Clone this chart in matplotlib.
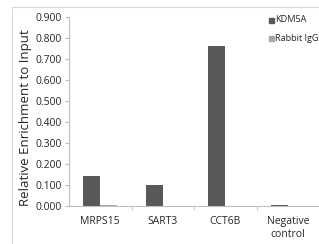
import numpy as np
import matplotlib
matplotlib.use("Agg")
import matplotlib.pyplot as plt
from matplotlib.patches import Rectangle

categories = ["MRPS15", "SART3", "CCT6B", "Negative\ncontrol"]
kdm5a = [0.143, 0.098, 0.763, 0.003]
rabbit_igg = [0.003, 0.002, 0.002, 0.002]
yticks = [0.0, 0.1, 0.2, 0.3, 0.4, 0.5, 0.6, 0.7, 0.8, 0.9]

dark = "#595959"
light = "#a6a6a6"
plt.rcParams["font.family"] = ["Open Sans", "DejaVu Sans"]

fig = plt.figure(figsize=(3.19, 2.44), dpi=100)
fig.patches.append(Rectangle((12 / 319, -0.1), 1.2, 1 - 7 / 244 + 0.1,
                             transform=fig.transFigure, fill=False,
                             edgecolor="#d9d9d9", linewidth=0.8))

ax = fig.add_axes([69 / 319, 1 - 206 / 244, 1 - 69 / 319, (206 - 17) / 244])
x = np.arange(len(categories))
w = 0.27
ax.bar(x - w / 2, kdm5a, w, color=dark, label="KDM5A")
ax.bar(x + w / 2, rabbit_igg, w, color=light, label="Rabbit IgG")

ax.set_xlim(-0.5, len(categories) - 0.5)
ax.set_ylim(0, 0.9)
ax.set_yticks(yticks)
ax.set_yticklabels(["%.3f" % v for v in yticks], fontsize=7.5, color="#262626")
ax.set_xticks(x)
ax.set_xticklabels(categories, fontsize=7.5, color="#262626", linespacing=1.3)
ax.set_xticks(np.arange(0.5, len(categories) - 0.5), minor=True)
ax.tick_params(axis="x", which="major", length=0, pad=7)
ax.tick_params(axis="x", which="minor", length=3, color="#bfbfbf")
ax.tick_params(axis="y", length=3, color="#bfbfbf", pad=2)

for s in ["top", "right"]:
    ax.spines[s].set_visible(False)
ax.spines["left"].set_color("#bfbfbf")
ax.spines["bottom"].set_color("#bfbfbf")
ax.spines["left"].set_linewidth(0.8)
ax.spines["bottom"].set_linewidth(0.8)

fig.text(25 / 319, 1 - 118 / 244, "Relative Enrichment to Input", rotation=90,
         ha="center", va="center", fontsize=9.5, color="#262626")

# legend
for i, (lab, col) in enumerate([("KDM5A", dark), ("Rabbit IgG", light)]):
    yy = 1 - (20 + 18 * i) / 244
    fig.patches.append(Rectangle((269 / 319, yy - 2.5 / 244), 5 / 319, 5 / 244,
                                 transform=fig.transFigure, color=col))
    fig.text(275 / 319, yy, lab, fontsize=6.6, va="center", ha="left", color="#262626")

fig.savefig("out.png", dpi=100)
